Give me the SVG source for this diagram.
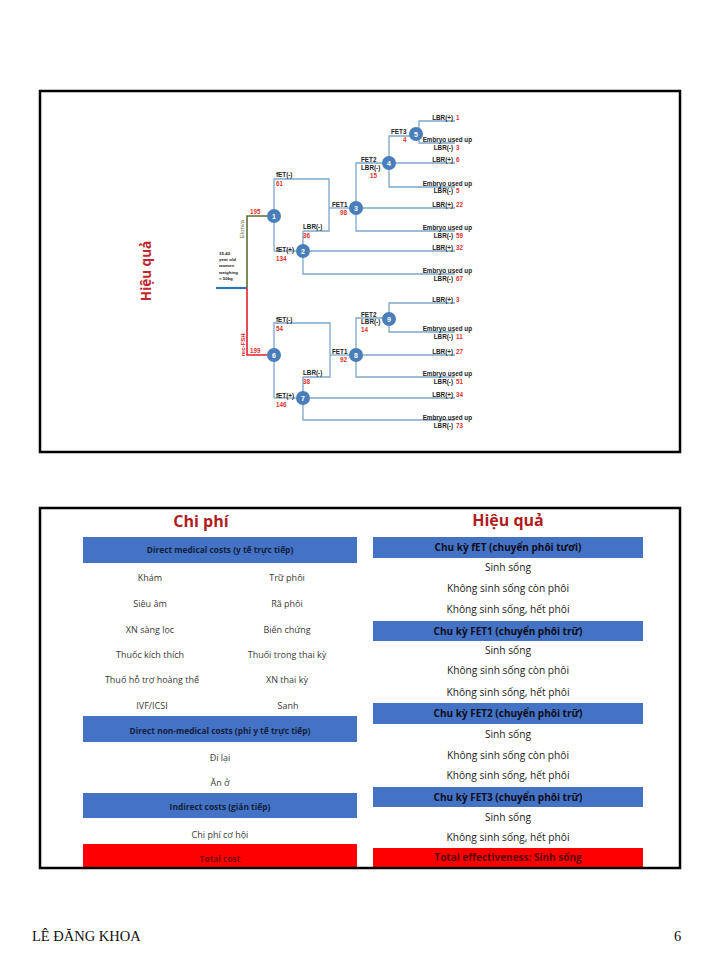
<svg xmlns="http://www.w3.org/2000/svg" width="720" height="960" viewBox="0 0 720 960">
<style>
.frame{fill:none;stroke:#000;stroke-width:2.5}
.ln{fill:none;stroke:#7ea6c9;stroke-width:1.3}
.nd{fill:#4a7ebb}
.nt{font-family:"Liberation Sans",Arial,sans-serif;font-size:7px;font-weight:bold;fill:#fff;text-anchor:middle}
.t{font-family:"Liberation Sans",Arial,sans-serif;font-size:6.3px;font-weight:bold;fill:#222}
.r{font-family:"Liberation Sans",Arial,sans-serif;font-size:6.3px;font-weight:bold;fill:#e0322d}
.e{text-anchor:end}
.sm{font-family:"Liberation Sans",Arial,sans-serif;font-size:4.4px;font-weight:bold;fill:#222}
.title{font-family:"Open Sans","Noto Sans",sans-serif;font-size:16px;font-weight:bold;fill:#b01c1c;text-anchor:middle}
.bar{fill:#4472c4}
.red{fill:#ff0000}
.bh{font-family:"Open Sans","Noto Sans",sans-serif;font-size:8.4px;font-weight:bold;fill:#13203d;text-anchor:middle}
.bhr{font-family:"Open Sans","Noto Sans",sans-serif;font-size:10px;font-weight:bold;fill:#0d0d1a;text-anchor:middle}
.it{font-family:"Open Sans","Noto Sans",sans-serif;font-size:9px;fill:#3a3a3a;text-anchor:middle}
.itr{font-family:"Open Sans","Noto Sans",sans-serif;font-size:10.2px;fill:#1a1a1a;text-anchor:middle}
.foot{font-family:"Liberation Serif","Times New Roman",serif;font-size:14.5px;fill:#111}
</style>

<!-- Top panel -->
<rect class="frame" x="40" y="91" width="640" height="361"/>
<text x="0" y="0" transform="translate(151,271) rotate(-90)" font-family="'Open Sans','Noto Sans',sans-serif" font-size="13.5" font-weight="bold" fill="#c0282d" text-anchor="middle">Hiệu quả</text>

<g id="connectors">
  <path d="M216,288 H247" fill="none" stroke="#2e75b6" stroke-width="2.2"/>
  <path d="M247,288 V216 H274" fill="none" stroke="#5e6b32" stroke-width="1.6"/>
  <path d="M247,288 V355 H274" fill="none" stroke="#e3202a" stroke-width="1.6"/>
  <path class="ln" d="M274,251 V179 H329 V231 H303"/>
  <path class="ln" d="M274,251 H303"/>
  <path class="ln" d="M329,208 H356"/>
  <path class="ln" d="M303,231 V274 H455"/>
  <path class="ln" d="M303,251 H455"/>
  <path class="ln" d="M356,208 H455"/>
  <path class="ln" d="M389,163 H356 V231 H455"/>
  <path class="ln" d="M416,136 H389 V187 H455"/>
  <path class="ln" d="M389,163 H455"/>
  <path class="ln" d="M455,121 H419 V143 H455"/>
  <path class="ln" d="M274,398 V323 H330 V377 H303"/>
  <path class="ln" d="M274,398 H303"/>
  <path class="ln" d="M330,355 H356"/>
  <path class="ln" d="M303,377 V420 H455"/>
  <path class="ln" d="M303,398 H455"/>
  <path class="ln" d="M389,318 H356 V377 H455"/>
  <path class="ln" d="M356,355 H455"/>
  <path class="ln" d="M455,303 H389 V332 H455"/>
</g>

<g id="root">
  <text class="sm" x="219" y="255">35-42</text>
  <text class="sm" x="219" y="261">year old</text>
  <text class="sm" x="219" y="267">women</text>
  <text class="sm" x="219" y="274">weighing</text>
  <text class="sm" x="219" y="280">&lt; 50kg</text>
  <text x="0" y="0" transform="translate(244,229) rotate(-90)" font-family="'Liberation Sans',Arial,sans-serif" font-size="6" fill="#5e6b32" text-anchor="middle">Elonva</text>
  <text x="0" y="0" transform="translate(245,345) rotate(-90)" font-family="'Liberation Sans',Arial,sans-serif" font-size="6" font-weight="bold" fill="#e3202a" text-anchor="middle">rec-FSH</text>
  <text class="r" x="250" y="214">195</text>
  <text class="r" x="250" y="353">199</text>
</g>

<g id="node1">
  <circle class="nd" cx="274" cy="216" r="7"/>
  <text class="nt" x="274" y="218.5">1</text>
  <text class="t" x="276" y="177">fET(-)</text>
  <text class="r" x="276" y="186">61</text>
  <text class="t" x="276" y="252">fET(+)</text>
  <text class="r" x="276" y="261">134</text>
</g>

<g id="node2">
  <circle class="nd" cx="303" cy="251" r="7"/>
  <text class="nt" x="303" y="253.5">2</text>
  <text class="t" x="303" y="229">LBR(-)</text>
  <text class="r" x="303" y="238">36</text>
  <text class="t e" x="453" y="250">LBR(+)</text><text class="r" x="456" y="250">32</text>
  <text class="t e" x="472" y="273">Embryo used up</text>
  <text class="t e" x="453" y="281">LBR(-)</text><text class="r" x="456" y="281">67</text>
</g>

<g id="node3">
  <circle class="nd" cx="356" cy="208" r="7"/>
  <text class="nt" x="356" y="210.5">3</text>
  <text class="t" x="332" y="207">FET1</text>
  <text class="r" x="340" y="215">98</text>
  <text class="t e" x="453" y="207">LBR(+)</text><text class="r" x="456" y="207">22</text>
  <text class="t e" x="472" y="230">Embryo used up</text>
  <text class="t e" x="453" y="238">LBR(-)</text><text class="r" x="456" y="238">59</text>
</g>

<g id="node4">
  <circle class="nd" cx="389" cy="163" r="7"/>
  <text class="nt" x="389" y="165.5">4</text>
  <text class="t" x="361" y="162">FET2</text>
  <text class="t" x="361" y="169.5">LBR(-)</text>
  <text class="r" x="370" y="177.5">15</text>
  <text class="t e" x="453" y="162">LBR(+)</text><text class="r" x="456" y="162">6</text>
  <text class="t e" x="472" y="186">Embryo used up</text>
  <text class="t e" x="453" y="193">LBR(-)</text><text class="r" x="456" y="193">5</text>
</g>

<g id="node5">
  <circle class="nd" cx="416" cy="134" r="7"/>
  <text class="nt" x="416" y="136.5">5</text>
  <text class="t" x="391" y="134">FET3</text>
  <text class="r" x="403" y="142">4</text>
  <text class="t e" x="453" y="120">LBR(+)</text><text class="r" x="456" y="120">1</text>
  <text class="t e" x="472" y="142">Embryo used up</text>
  <text class="t e" x="453" y="149.5">LBR(-)</text><text class="r" x="456" y="149.5">3</text>
</g>

<g id="node6">
  <circle class="nd" cx="274" cy="355" r="7"/>
  <text class="nt" x="274" y="357.5">6</text>
  <text class="t" x="276" y="321.5">fET(-)</text>
  <text class="r" x="276" y="331">54</text>
  <text class="t" x="276" y="398">fET(+)</text>
  <text class="r" x="276" y="407">146</text>
</g>

<g id="node7">
  <circle class="nd" cx="303" cy="398" r="7"/>
  <text class="nt" x="303" y="400.5">7</text>
  <text class="t" x="303" y="375">LBR(-)</text>
  <text class="r" x="303" y="384">38</text>
  <text class="t e" x="453" y="397">LBR(+)</text><text class="r" x="456" y="397">34</text>
  <text class="t e" x="472" y="420">Embryo used up</text>
  <text class="t e" x="453" y="428">LBR(-)</text><text class="r" x="456" y="428">73</text>
</g>

<g id="node8">
  <circle class="nd" cx="356" cy="355" r="7"/>
  <text class="nt" x="356" y="357.5">8</text>
  <text class="t" x="332" y="354">FET1</text>
  <text class="r" x="340" y="362">92</text>
  <text class="t e" x="453" y="354">LBR(+)</text><text class="r" x="456" y="354">27</text>
  <text class="t e" x="472" y="376">Embryo used up</text>
  <text class="t e" x="453" y="384">LBR(-)</text><text class="r" x="456" y="384">51</text>
</g>

<g id="node9">
  <circle class="nd" cx="389" cy="319" r="7"/>
  <text class="nt" x="389" y="321.5">9</text>
  <text class="t" x="361" y="317">FET2</text>
  <text class="t" x="361" y="324">LBR(-)</text>
  <text class="r" x="361" y="332">14</text>
  <text class="t e" x="453" y="302">LBR(+)</text><text class="r" x="456" y="302">3</text>
  <text class="t e" x="472" y="331">Embryo used up</text>
  <text class="t e" x="453" y="339">LBR(-)</text><text class="r" x="456" y="339">11</text>
</g>

<!-- Bottom panel -->
<g id="costs">
  <text class="title" x="201" y="527">Chi phí</text>
  <rect class="bar" x="83" y="537" width="274" height="26"/>
  <text class="bh" x="220" y="553">Direct medical costs (y tế trực tiếp)</text>
  <text class="it" x="150" y="581">Khám</text><text class="it" x="287" y="581">Trữ phôi</text>
  <text class="it" x="150" y="607">Siêu âm</text><text class="it" x="287" y="607">Rã phôi</text>
  <text class="it" x="150" y="633">XN sàng lọc</text><text class="it" x="287" y="633">Biến chứng</text>
  <text class="it" x="150" y="658">Thuốc kích thích</text><text class="it" x="287" y="658">Thuối trong thai kỳ</text>
  <text class="it" x="152" y="683">Thuố hỗ trợ hoàng thể</text><text class="it" x="287" y="683">XN thai kỳ</text>
  <text class="it" x="152" y="709">IVF/ICSI</text><text class="it" x="288" y="709">Sanh</text>
  <rect class="bar" x="83" y="716" width="274" height="26"/>
  <text class="bh" x="220" y="734">Direct non-medical costs (phi y tế trực tiếp)</text>
  <text class="it" x="220" y="761">Đi lại</text>
  <text class="it" x="220" y="786">Ăn ở</text>
  <rect class="bar" x="83" y="793" width="274" height="25"/>
  <text class="bh" x="220" y="810">Indirect costs (gián tiếp)</text>
  <text class="it" x="220" y="838">Chi phí cơ hội</text>
  <rect class="red" x="83" y="844" width="274" height="24"/>
  <text class="bh" x="220" y="862" style="fill:#7a0000">Total cost</text>
</g>

<g id="effectiveness">
  <text class="title" x="508" y="526">Hiệu quả</text>
  <rect class="bar" x="373" y="537" width="270" height="21"/>
  <text class="bhr" x="508" y="551">Chu kỳ fET (chuyển phôi tươi)</text>
  <text class="itr" x="508" y="571">Sinh sống</text>
  <text class="itr" x="508" y="592">Không sinh sống còn phôi</text>
  <text class="itr" x="508" y="613">Không sinh sống, hết phôi</text>
  <rect class="bar" x="373" y="621" width="270" height="20"/>
  <text class="bhr" x="508" y="634.5">Chu kỳ FET1 (chuyển phôi trữ)</text>
  <text class="itr" x="508" y="654">Sinh sống</text>
  <text class="itr" x="508" y="674">Không sinh sống còn phôi</text>
  <text class="itr" x="508" y="696">Không sinh sống, hết phôi</text>
  <rect class="bar" x="373" y="703" width="270" height="21"/>
  <text class="bhr" x="508" y="717">Chu kỳ FET2 (chuyển phôi trữ)</text>
  <text class="itr" x="508" y="738">Sinh sống</text>
  <text class="itr" x="508" y="758.5">Không sinh sống còn phôi</text>
  <text class="itr" x="508" y="779">Không sinh sống, hết phôi</text>
  <rect class="bar" x="373" y="787" width="270" height="20"/>
  <text class="bhr" x="508" y="800.5">Chu kỳ FET3 (chuyển phôi trữ)</text>
  <text class="itr" x="508" y="820.5">Sinh sống</text>
  <text class="itr" x="508" y="841">Không sinh sống, hết phôi</text>
  <rect class="red" x="373" y="848" width="270" height="20"/>
  <text class="bhr" x="508" y="861" style="fill:#5c0000">Total effectiveness: Sinh sống</text>
</g>
<rect class="frame" x="40" y="508" width="640" height="360"/>

<g id="footer">
  <text class="foot" x="32" y="941">LÊ ĐĂNG KHOA</text>
  <text class="foot" x="674" y="941">6</text>
</g>
</svg>
